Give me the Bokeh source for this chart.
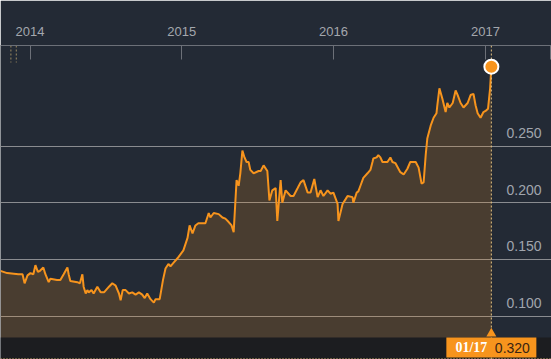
from datetime import datetime, timedelta
import pandas as pd
from bokeh.plotting import figure
from bokeh.models import (Range1d, FixedTicker, Grid, Span, BoxAnnotation,
                          DatetimeTickFormatter)
from bokeh.embed import file_html
from bokeh.resources import INLINE
from bokeh.core.properties import value

# ---------------- data ----------------
dates = [
    "2013-10-22", "2013-11-07", "2013-12-04", "2013-12-14", "2013-12-19", "2013-12-26",
    "2014-01-02", "2014-01-09", "2014-01-14", "2014-01-20", "2014-01-25", "2014-02-02",
    "2014-02-07", "2014-02-15", "2014-02-19", "2014-03-07", "2014-03-15", "2014-03-23",
    "2014-04-01", "2014-04-04", "2014-04-08", "2014-04-25", "2014-05-01", "2014-05-07",
    "2014-05-10", "2014-05-15", "2014-05-19", "2014-05-22", "2014-05-29", "2014-06-03",
    "2014-06-12", "2014-06-20", "2014-06-28", "2014-07-10", "2014-07-18", "2014-07-26",
    "2014-08-03", "2014-08-07", "2014-08-12", "2014-08-19", "2014-08-27", "2014-09-04",
    "2014-09-12", "2014-09-20", "2014-09-28", "2014-10-04", "2014-10-10", "2014-10-18",
    "2014-10-26", "2014-10-30", "2014-11-09", "2014-11-17", "2014-11-23", "2014-11-30",
    "2014-12-05", "2014-12-12", "2014-12-24", "2015-01-05", "2015-01-15", "2015-01-20",
    "2015-01-27", "2015-02-03", "2015-02-10", "2015-02-27", "2015-03-07", "2015-03-11",
    "2015-03-19", "2015-03-31", "2015-04-09", "2015-04-16", "2015-04-24", "2015-05-01",
    "2015-05-06", "2015-05-13", "2015-05-18", "2015-05-22", "2015-05-27", "2015-06-01",
    "2015-06-06", "2015-06-11", "2015-06-15", "2015-06-23", "2015-07-05", "2015-07-10",
    "2015-07-17", "2015-07-26", "2015-07-31", "2015-08-07", "2015-08-15", "2015-08-19",
    "2015-08-27", "2015-08-31", "2015-09-08", "2015-09-20", "2015-09-27", "2015-10-07",
    "2015-10-14", "2015-10-21", "2015-10-31", "2015-11-07", "2015-11-16", "2015-11-24",
    "2015-12-01", "2015-12-08", "2015-12-18", "2015-12-25", "2016-01-01", "2016-01-11",
    "2016-01-13", "2016-01-23", "2016-01-30", "2016-02-04", "2016-02-16", "2016-02-18",
    "2016-02-26", "2016-03-01", "2016-03-06", "2016-03-13", "2016-03-23", "2016-03-30",
    "2016-04-04", "2016-04-06", "2016-04-14", "2016-04-18", "2016-04-23", "2016-04-28",
    "2016-05-10", "2016-05-17", "2016-05-22", "2016-05-29", "2016-06-10", "2016-06-18",
    "2016-06-27", "2016-07-04", "2016-07-17", "2016-07-24", "2016-07-31", "2016-08-05",
    "2016-08-10", "2016-08-14", "2016-08-22", "2016-08-29", "2016-09-05", "2016-09-07",
    "2016-09-12", "2016-09-19", "2016-09-27", "2016-10-01", "2016-10-06", "2016-10-14",
    "2016-10-21", "2016-10-26", "2016-11-02", "2016-11-09", "2016-11-19", "2016-11-26",
    "2016-12-03", "2016-12-08", "2016-12-13", "2016-12-20", "2016-12-27", "2017-01-01",
    "2017-01-07", "2017-01-12", "2017-01-15",
]
values = [
    0.140, 0.138, 0.137, 0.137, 0.129, 0.136,
    0.138, 0.137, 0.145, 0.139, 0.140, 0.143,
    0.137, 0.130, 0.133, 0.132, 0.132, 0.137,
    0.143, 0.137, 0.131, 0.130, 0.129, 0.137,
    0.126, 0.120, 0.123, 0.121, 0.123, 0.120,
    0.126, 0.121, 0.121, 0.126, 0.129, 0.127,
    0.120, 0.114, 0.123, 0.123, 0.120, 0.121,
    0.119, 0.121, 0.119, 0.116, 0.120, 0.115,
    0.112, 0.115, 0.115, 0.132, 0.142, 0.146,
    0.144, 0.147, 0.152, 0.158, 0.169, 0.180,
    0.173, 0.180, 0.182, 0.182, 0.191, 0.187,
    0.191, 0.190, 0.187, 0.186, 0.183, 0.180,
    0.174, 0.220, 0.215, 0.226, 0.246, 0.240,
    0.236, 0.236, 0.229, 0.226, 0.228, 0.228,
    0.233, 0.228, 0.202, 0.211, 0.213, 0.184,
    0.220, 0.200, 0.211, 0.206, 0.206, 0.213,
    0.218, 0.220, 0.209, 0.209, 0.221, 0.205,
    0.211, 0.206, 0.211, 0.208, 0.209, 0.199,
    0.184, 0.199, 0.203, 0.206, 0.205, 0.200,
    0.209, 0.210, 0.215, 0.222, 0.226, 0.229,
    0.236, 0.239, 0.240, 0.242, 0.240, 0.236,
    0.236, 0.240, 0.236, 0.235, 0.227, 0.225,
    0.230, 0.236, 0.236, 0.231, 0.217, 0.218,
    0.242, 0.257, 0.268, 0.275, 0.279, 0.286,
    0.301, 0.292, 0.280, 0.288, 0.284, 0.288,
    0.299, 0.295, 0.288, 0.284, 0.288, 0.295,
    0.296, 0.286, 0.279, 0.275, 0.280, 0.281,
    0.283, 0.301, 0.320,
]
year_ticks = ["2014-01-01", "2015-01-01", "2016-01-01", "2017-01-01"]
y_ticks = [0.100, 0.150, 0.200, 0.250]
y_tick_labels = ["0.100", "0.150", "0.200", "0.250"]
event_dates = ["2013-11-16", "2013-11-29"]

# ---------------- layout helpers ----------------
W, H, TOP = 551, 359, 45
BG = "#232a35"
ORANGE = "#f7941d"
x_start = datetime(2014, 1, 1) - timedelta(days=71.0)
x_end = datetime(2014, 1, 1) + timedelta(days=1254.7)
y_top, y_bot = 0.3387, 0.0618


def yv(py):
    """screen pixel row -> data value"""
    return y_top - (py - TOP) / (H - TOP) * (y_top - y_bot)


def ms(d):
    return (pd.Timestamp(d) - pd.Timestamp("1970-01-01")).total_seconds() * 1000.0


xs = pd.to_datetime(dates)
last_x = xs[-1]
last_v = values[-1]

p = figure(width=W, height=H, x_axis_type="datetime", x_axis_location="above",
           y_axis_location=None, x_range=Range1d(x_start, x_end),
           y_range=Range1d(y_bot, y_top), output_backend="svg",
           toolbar_location=None, min_border=0, min_border_top=TOP,
           min_border_left=0, min_border_right=0, min_border_bottom=0,
           background_fill_color=BG, border_fill_color=BG)
p.outline_line_color = None
p.xgrid.visible = False
p.ygrid.visible = False

p.add_layout(Grid(dimension=1, ticker=FixedTicker(ticks=y_ticks),
                  grid_line_color="#8a8c90", grid_line_width=1))

# bottom dark band
p.add_layout(BoxAnnotation(top=yv(337), fill_color="#1c1d20", fill_alpha=1.0,
                           line_color=None, level="underlay"))

# area + line
p.varea(x=xs, y1=yv(337), y2=values, fill_color=ORANGE, fill_alpha=0.18)
p.line(x=xs, y=values, line_color=ORANGE, line_width=2)

# vertical dotted line at last point
p.add_layout(Span(location=ms(last_x), dimension="height", line_color="#e2c080",
                  line_dash="2 2", line_width=1))
# small event markers near the left
p.segment(x0=pd.to_datetime(event_dates), y0=[y_top] * 2,
          x1=pd.to_datetime(event_dates), y1=[yv(62)] * 2,
          line_color="#9c8a62", line_dash="2 2", line_width=1)
# bottom dotted rule
p.add_layout(Span(location=yv(358), dimension="width", line_color="#b89a62",
                  line_dash="1 2", line_width=1))

# last point marker
r = p.scatter(x=[last_x], y=[last_v], size=14, fill_color=ORANGE,
              line_color="white", line_width=2)
r.level = "overlay"

# badge
r = p.scatter(x=[last_x], y=[yv(333)], marker="triangle", size=10,
              fill_color=ORANGE, line_color=None)
r.level = "overlay"
r = p.rect(x=[last_x], y=[yv(347)], width=90, height=20, width_units="screen",
           height_units="screen", fill_color=ORANGE, line_color=None)
r.level = "overlay"
r = p.text(x=[last_x], y=[yv(347)], text=[last_x.strftime("%m/%y")], x_offset=-20,
           text_align="center", text_baseline="middle",
           text_font=value("Liberation Serif"), text_font_style="bold",
           text_font_size="14px", text_color="white")
r.level = "overlay"
r = p.text(x=[last_x], y=[yv(347)], text=[f"{last_v:.3f}"], x_offset=21,
           text_align="center", text_baseline="middle",
           text_font=value("Liberation Sans"), text_font_size="14px",
           text_color="#3a2412")
r.level = "overlay"

# y tick labels inside the plot, right side, above grid lines
p.text(x=[x_end] * len(y_ticks), y=y_ticks, text=y_tick_labels, x_offset=-10,
       y_offset=-8, text_align="right", text_baseline="bottom",
       text_font=value("Liberation Sans"), text_font_size="14px",
       text_color="#a0a5ad")

# x axis (above)
xa = p.xaxis[0]
edge_tick = ms(x_end) - 1.5 * (ms(x_end) - ms(x_start)) / W
xa.ticker = FixedTicker(ticks=[ms(d) for d in year_ticks] + [edge_tick])
xa.formatter = DatetimeTickFormatter(years="%Y", months="%Y", days="%Y",
                                     hours="%Y", minutes="%Y", seconds="%Y",
                                     milliseconds="%Y", microseconds="%Y",
                                     hourmin="%Y", minsec="%Y")
xa.major_label_overrides = {edge_tick: ""}
xa.axis_line_color = "#6c7078"
xa.major_tick_line_color = "#6c7078"
xa.major_tick_in = 14
xa.major_tick_out = 0
xa.minor_tick_line_color = None
xa.major_label_standoff = 10
xa.major_label_text_color = "#a3a7ad"
xa.major_label_text_font = "Liberation Sans"
xa.major_label_text_font_size = "13px"

open("out.html", "w").write(file_html(p, INLINE))
